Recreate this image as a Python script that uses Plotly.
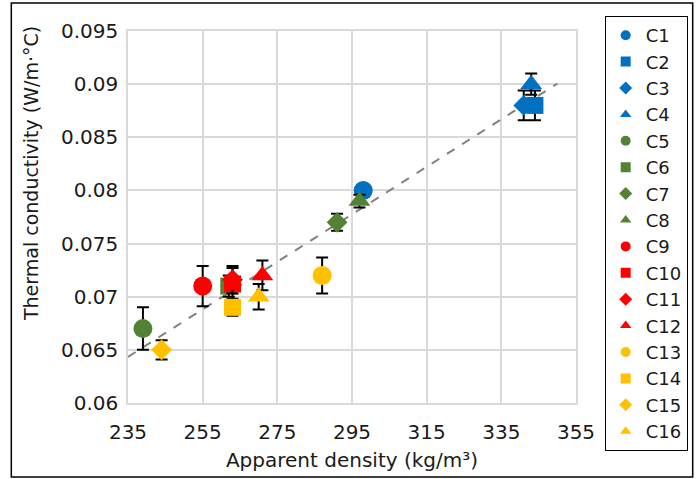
import numpy as np
import plotly.graph_objects as go

# Mix designs C1..C16: apparent density (kg/m³), thermal conductivity (W/m·°C), std. dev.
names = ["C1", "C2", "C3", "C4", "C5", "C6", "C7", "C8",
         "C9", "C10", "C11", "C12", "C13", "C14", "C15", "C16"]
density = [298, 344, 341, 343, 239, 262, 291, 297,
           255, 263, 263, 271, 287, 263, 244, 270]
conductivity = [0.080, 0.088, 0.088, 0.090, 0.067, 0.071, 0.077, 0.079,
                0.071, 0.0712, 0.0716, 0.072, 0.072, 0.069, 0.065, 0.070]
std_dev = [0.0005, 0.0014, 0.0014, 0.0010, 0.0020, 0.0010, 0.0008, 0.0006,
           0.0019, 0.0015, 0.0013, 0.0014, 0.0017, 0.0008, 0.0009, 0.0012]

x_ticks = [235, 255, 275, 295, 315, 335, 355]
y_ticks = [0.06, 0.065, 0.07, 0.075, 0.08, 0.085, 0.09, 0.095]
y_tick_text = ["0.06", "0.065", "0.07", "0.075", "0.08", "0.085", "0.09", "0.095"]

group_colors = ["#0070C0", "#548235", "#FF0000", "#FFC000"]
shapes_cycle = ["circle", "square", "diamond", "triangle-up"]
data_sizes = {"circle": 19, "square": 17, "diamond": 16, "triangle-up": 19}

FONT = "DejaVu Sans, Arial, sans-serif"

fig = go.Figure()

# Linear trend line through all mixes
slope, intercept = np.polyfit(density, conductivity, 1)
trend_x = np.array([235, 350])
fig.add_trace(go.Scatter(
    x=trend_x, y=slope * trend_x + intercept, mode="lines",
    line=dict(color="#808080", width=2, dash="dash"),
    showlegend=False, hoverinfo="skip"))

for i, name in enumerate(names):
    color = group_colors[i // 4]
    symbol = shapes_cycle[i % 4]
    fig.add_trace(go.Scatter(
        x=[density[i]], y=[conductivity[i]], mode="markers",
        marker=dict(symbol=symbol, color=color, size=data_sizes[symbol], line=dict(width=0)),
        error_y=dict(type="data", array=[std_dev[i]], color="black", thickness=2, width=6),
        name=name, showlegend=False))

# Legend entries with small symbols
for i, name in enumerate(names):
    fig.add_trace(go.Scatter(
        x=[None], y=[None], mode="markers",
        marker=dict(symbol=shapes_cycle[i % 4], color=group_colors[i // 4], size=10),
        name=name, showlegend=True))

W, H = 700, 479
L, R, T, B = 128, 119, 31, 76
pw, ph = W - L - R, H - T - B

def px_x(px):
    return (px - L) / pw

def px_y(py):
    return (H - B - py) / ph

fig.update_layout(
    width=W, height=H,
    margin=dict(l=L, r=R, t=T, b=B),
    paper_bgcolor="white", plot_bgcolor="white",
    font=dict(family=FONT, size=20, color="#1a1a1a"),
    xaxis=dict(
        range=[235, 355], tickvals=x_ticks, showgrid=True,
        gridcolor="#D9D9D9", gridwidth=1.5, zeroline=False,
        showline=True, linecolor="#D9D9D9", linewidth=1.5, mirror=True,
        ticks="", ticklabelstandoff=10,
        title=dict(text="Apparent density (kg/m³)", font=dict(size=20), standoff=10)),
    yaxis=dict(
        range=[0.06, 0.095], tickvals=y_ticks, ticktext=y_tick_text, showgrid=True,
        gridcolor="#D9D9D9", gridwidth=1.5, zeroline=False,
        showline=True, linecolor="#D9D9D9", linewidth=1.5, mirror=True,
        ticks="", ticklabelstandoff=4),
    legend=dict(
        x=px_x(610), y=px_y(16), xanchor="left", yanchor="top",
        bordercolor="black", borderwidth=1, bgcolor="white",
        font=dict(size=18), tracegroupgap=0, itemsizing="trace",
        maxheight=470),
    shapes=[dict(type="rect", xref="paper", yref="paper",
                 x0=px_x(10), x1=px_x(699), y0=px_y(477), y1=px_y(3),
                 line=dict(color="black", width=1.5))],
    annotations=[dict(text="Thermal conductivity (W/m·°C)", textangle=-90,
                      xref="paper", yref="paper", x=px_x(30), y=px_y(174),
                      xanchor="center", yanchor="middle", showarrow=False,
                      font=dict(size=19))],
)

fig.write_html("out.html")
